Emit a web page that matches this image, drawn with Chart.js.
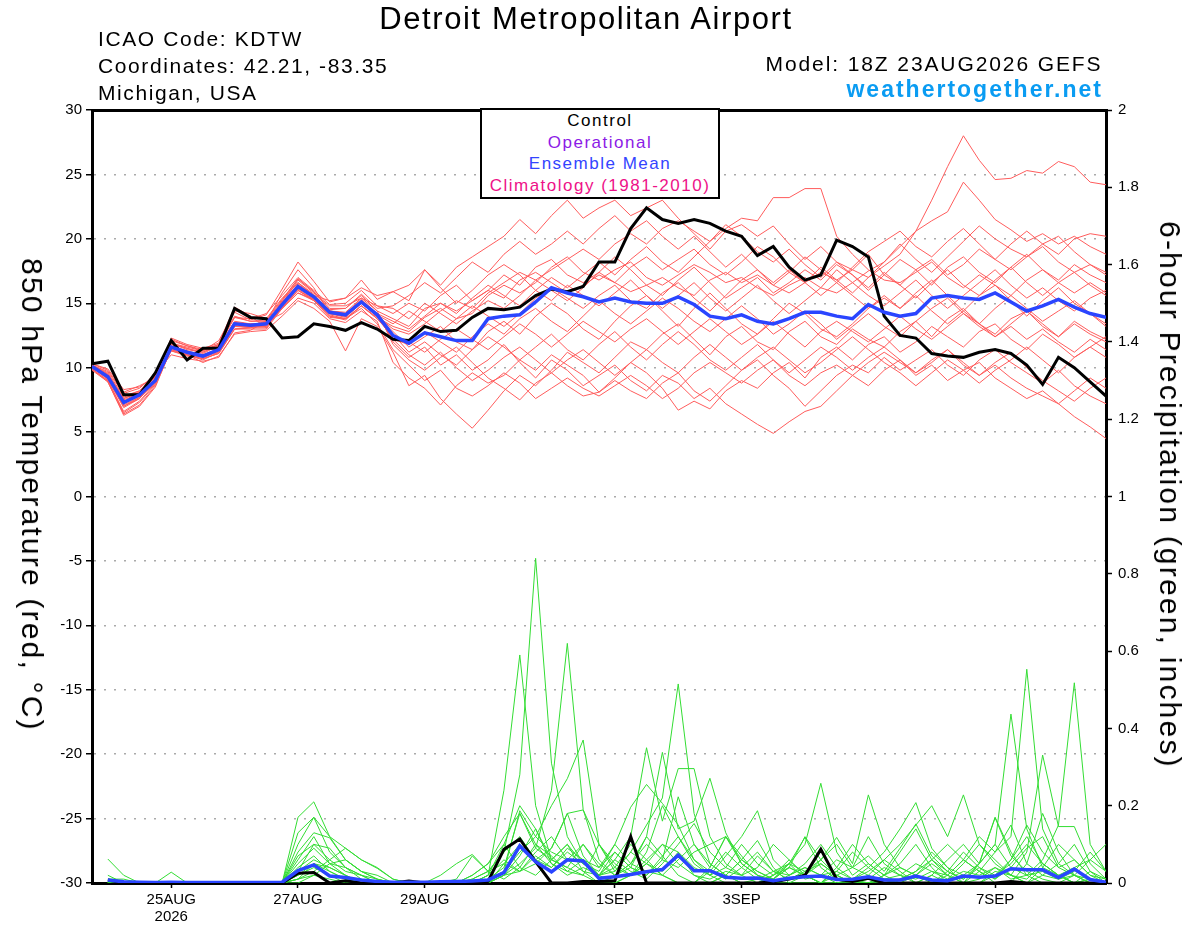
<!DOCTYPE html>
<html>
<head>
<meta charset="utf-8">
<title>Detroit Metropolitan Airport - GEFS plume</title>
<script src="https://cdn.jsdelivr.net/npm/chart.js@4/dist/chart.umd.min.js"></script>
<style>
  html, body { margin: 0; padding: 0; background: #fff; }
  #wrap { position: relative; width: 1200px; height: 927px; overflow: hidden;
          font-family: "Liberation Sans", Arial, Helvetica, sans-serif; color: #000; }
  #chart { position: absolute; left: 0; top: 0; }
  .txt { position: absolute; white-space: nowrap; }
  #title { left: 0; width: 1172px; top: 3px; text-align: center; font-size: 31px; line-height: 31px; letter-spacing: 1.6px; }
  #station { left: 98px; top: 25px; font-size: 21px; line-height: 27px; letter-spacing: 1.6px; }
  #model { right: 97.5px; top: 50px; font-size: 21px; line-height: 27px; letter-spacing: 1.9px; }
  #site { right: 97px; top: 75.5px; font-size: 23px; line-height: 27px; letter-spacing: 2px; font-weight: bold; color: #0a9cf2; }
  #legendBox { position: absolute; left: 480px; top: 108px; width: 236px; height: 87px; border: 2px solid #000;
               background: #fff; text-align: center; font-size: 17px; line-height: 21.7px; letter-spacing: 1.5px; }
  .vlabel { font-size: 30px; line-height: 34px; letter-spacing: 2.2px; transform: translate(-50%, -50%) rotate(90deg); }
  #leftTitle { left: 32px; top: 495px; }
  #rightTitle { left: 1170px; top: 495px; }
</style>
</head>
<body>
<div id="wrap">
  <canvas id="chart" width="1200" height="927"></canvas>
  <div class="txt" id="title">Detroit Metropolitan Airport</div>
  <div class="txt" id="station">ICAO Code: KDTW<br>Coordinates: 42.21, -83.35<br>Michigan, USA</div>
  <div class="txt" id="model">Model: 18Z 23AUG2026 GEFS</div>
  <div class="txt" id="site">weathertogether.net</div>
  <div id="legendBox">
    <div style="color:#000">Control</div>
    <div style="color:#8c1ae6">Operational</div>
    <div style="color:#3344ff">Ensemble Mean</div>
    <div style="color:#ee1188">Climatology (1981-2010)</div>
  </div>
  <div class="txt vlabel" id="leftTitle">850 hPa Temperature (red, °C)</div>
  <div class="txt vlabel" id="rightTitle">6-hour Precipitation (green, inches)</div>
</div>
<script>
// forecast lead times (hours after 18Z 23AUG2026)
const leadHours = [0, 6, 12, 18, 24, 30, 36, 42, 48, 54, 60, 66, 72, 78, 84, 90, 96,
  102, 108, 114, 120, 126, 132, 138, 144, 150, 156, 162, 168, 174, 180, 186, 192,
  198, 204, 210, 216, 222, 228, 234, 240, 246, 252, 258, 264, 270, 276, 282, 288,
  294, 300, 306, 312, 318, 324, 330, 336, 342, 348, 354, 360, 366, 372, 378, 384];

const tickHours = [30, 78, 126, 198, 246, 294, 342];
const tickLabels = [['25AUG', '2026'], '27AUG', '29AUG', '1SEP', '3SEP', '5SEP', '7SEP'];

// 850 hPa temperature (C), one value per lead time
const controlTemp = [10.3, 10.5, 7.9, 7.9, 9.6, 12.1, 10.6, 11.5, 11.5, 14.6, 13.9, 13.8, 12.3,
  12.4, 13.4, 13.2, 12.9, 13.5, 13.0, 12.2, 12.1, 13.2, 12.8, 12.9, 13.9, 14.6, 14.5, 14.7,
  15.6, 16.1, 15.9, 16.3, 18.2, 18.2, 20.8, 22.4, 21.5, 21.2, 21.5, 21.2, 20.6, 20.2, 18.7,
  19.4, 17.8, 16.8, 17.2, 19.9, 19.4, 18.6, 14.0, 12.5, 12.3, 11.1, 10.9, 10.8, 11.2, 11.4,
  11.1, 10.2, 8.7, 10.8, 10.0, 8.9, 7.8];

const meanTemp = [10.1, 9.3, 7.3, 7.9, 9.0, 11.6, 11.2, 10.9, 11.4, 13.4,
  13.3, 13.4, 14.9, 16.3, 15.5, 14.3, 14.1, 15.1, 14.1, 12.5,
  11.9, 12.7, 12.4, 12.1, 12.1, 13.8, 14.0, 14.1, 15.1, 16.2,
  15.8, 15.5, 15.1, 15.4, 15.1, 15.0, 15.0, 15.5, 14.9, 14.0,
  13.8, 14.1, 13.6, 13.4, 13.8, 14.3, 14.3, 14.0, 13.8, 14.9,
  14.3, 14.0, 14.2, 15.4, 15.6, 15.4, 15.3, 15.8, 15.1, 14.4,
  14.8, 15.3, 14.7, 14.2, 13.9];

const tempMembers = [
  [10.0, 9.2, 7.0, 7.6, 9.1, 11.9, 11.4, 11.2, 11.8, 13.9, 13.6, 13.7, 15.3, 16.9, 15.9, 14.5, 14.6, 15.6, 14.4,
   13.8, 13.2, 14.6, 15.0, 14.4, 15.2, 16.0, 15.4, 16.8, 17.4, 16.6, 15.8, 16.4, 17.2, 16.6, 15.9,
   16.4, 17.0, 16.2, 15.6, 16.8, 17.4, 16.6, 17.2, 16.4, 15.8, 16.6, 17.4, 16.8, 17.6, 17.0, 17.9,
   18.8, 20.6, 23.0, 25.6, 28.0, 26.1, 24.6, 24.7, 25.3, 25.1, 26.0, 25.6, 24.4, 24.2],
  [10.2, 9.5, 7.6, 8.1, 9.3, 11.3, 10.9, 10.7, 11.1, 13.0, 13.1, 13.6, 14.6, 15.8, 15.3, 14.1, 13.8, 14.8, 13.9,
   13.2, 12.8, 13.9, 14.6, 13.8, 14.2, 15.6, 16.4, 15.8, 16.6, 17.8, 18.6, 17.4, 16.8, 17.6, 18.2,
   17.0, 16.4, 17.2, 18.0, 17.4, 16.6, 17.0, 16.2, 15.6, 16.4, 17.0, 16.2, 15.8, 16.6,
   17.5, 18.2, 19.4, 20.6, 21.4, 22.1, 24.4, 23.0, 21.5, 20.7, 19.8, 20.4, 19.6, 20.2, 19.4, 18.8],
  [9.9, 9.0, 6.5, 7.3, 8.7, 12.1, 11.7, 11.3, 12.1, 14.3, 13.7, 14.1, 16.1, 18.2, 16.7, 15.1, 15.4, 16.8, 15.3,
   15.9, 15.2, 17.6, 16.4, 17.8, 18.6, 19.4, 20.2, 21.5, 20.4, 21.8, 23.0, 21.6, 22.4, 23.0, 21.8,
   22.4, 23.0, 21.6, 20.4, 19.2, 20.6, 21.1, 20.2, 21.0, 19.6, 18.4, 19.4, 18.2, 17.6, 18.8, 17.2,
   16.4, 17.6, 18.4, 17.2, 18.0, 19.2, 18.4, 17.6, 18.6, 19.4, 18.2, 17.4, 18.0, 17.2],
  [10.1, 9.4, 7.5, 8.0, 9.7, 11.4, 11.0, 10.4, 10.9, 12.6, 12.8, 12.9, 14.0, 15.2, 14.6, 13.6, 11.3, 13.8, 13.2,
   11.2, 8.6, 9.4, 7.6, 6.4, 5.3, 6.7, 8.2, 9.4, 8.6, 9.8, 11.2, 10.4, 9.6, 10.8, 12.0,
   11.4, 12.6, 13.4, 12.2, 11.0, 12.4, 13.2, 12.0, 11.4, 12.8, 13.6, 12.4, 11.8, 13.0, 12.2, 11.6,
   12.8, 13.6, 12.4, 13.8, 14.6, 13.4, 12.6, 13.8, 14.4, 13.2, 12.4, 13.6, 12.8, 12.2],
  [10.0, 9.1, 6.9, 7.6, 8.9, 11.7, 11.3, 11.0, 11.5, 13.5, 13.4, 13.2, 15.2, 16.6, 15.7, 14.4, 14.2, 15.3, 14.2,
   12.0, 10.8, 11.6, 10.2, 11.0, 9.8, 10.6, 11.8, 10.4, 9.2, 10.6, 9.8, 8.6, 9.4, 10.2, 9.0,
   8.2, 9.4, 8.8, 7.6, 8.4, 7.2, 6.4, 5.6, 4.9, 5.8, 6.6, 7.0, 8.2, 9.4, 8.6, 9.8,
   10.6, 9.4, 10.2, 9.0, 9.8, 10.4, 9.2, 8.4, 7.6, 8.2, 7.2, 6.2, 5.4, 4.5],
  [10.2, 9.7, 8.0, 8.4, 9.5, 11.0, 10.7, 10.5, 10.8, 12.7, 12.9, 13.6, 14.2, 15.4, 15.0, 13.8, 13.5, 14.4, 13.6,
   10.4, 9.2, 8.4, 7.1, 8.6, 9.6, 8.8, 9.4, 10.6, 9.8, 11.0, 10.2, 9.4, 8.1, 9.2, 10.4,
   9.6, 8.4, 6.7, 7.4, 6.8, 8.2, 9.0, 8.4, 9.6, 10.4, 9.2, 10.8, 11.6, 10.6, 11.8, 12.4,
   11.2, 12.0, 13.2, 12.4, 11.6, 12.8, 13.4, 12.2, 11.4, 12.6, 11.8, 10.8, 11.6, 12.4],
  [10.3, 9.8, 8.1, 8.6, 9.2, 12.3, 11.8, 11.5, 11.9, 14.7, 14.0, 13.1, 15.0, 16.8, 15.8, 14.8, 14.8, 15.4, 14.8,
   14.2, 15.0, 14.4, 15.6, 16.4, 15.2, 16.0, 17.2, 16.4, 17.8, 18.4, 17.2, 16.6, 17.4, 18.6, 17.6,
   16.4, 15.6, 16.8, 17.8, 16.6, 15.4, 16.2, 17.0, 15.8, 16.6, 17.6, 16.8, 18.0, 17.2, 16.0, 17.2,
   18.4, 17.6, 16.4, 17.8, 18.6, 17.4, 16.6, 17.8, 18.8, 17.6, 16.8, 18.0, 17.2, 16.6],
  [9.8, 8.9, 6.3, 7.0, 8.5, 11.5, 11.1, 10.8, 11.2, 13.2, 13.2, 13.5, 15.8, 17.6, 16.2, 14.2, 14.0, 15.0, 14.0,
   12.8, 11.6, 12.4, 13.2, 12.0, 11.4, 12.8, 13.6, 12.6, 14.0, 15.0, 14.2, 13.0, 12.2, 13.6, 14.8,
   15.6, 14.4, 13.2, 14.6, 15.8, 14.6, 13.4, 12.6, 13.8, 15.0, 14.2, 13.0, 12.4, 13.4, 14.6, 15.4,
   14.6, 15.8, 16.8, 15.6, 14.4, 15.6, 16.4, 15.2, 14.0, 15.2, 16.2, 15.0, 14.2, 13.4],
  [10.1, 9.3, 7.2, 7.8, 9.0, 11.6, 11.2, 11.0, 11.4, 13.3, 13.4, 13.4, 14.8, 16.2, 15.4, 14.4, 14.2, 15.0, 14.0,
   13.0, 12.6, 13.4, 14.4, 15.2, 14.6, 15.8, 16.6, 17.4, 16.8, 17.6, 18.4, 19.2, 18.4, 19.6, 20.4,
   19.6, 20.8, 21.4, 20.6, 19.8, 20.8, 21.6, 21.4, 23.2, 23.2, 23.9, 23.9, 20.2, 18.8, 17.6, 16.8,
   16.6, 17.4, 18.2, 17.0, 16.2, 17.2, 16.4, 15.6, 16.8, 17.6, 16.6, 15.8, 16.6, 15.8],
  [10.0, 9.2, 7.1, 7.7, 8.8, 11.3, 11.0, 10.6, 11.2, 13.0, 13.0, 13.0, 14.6, 15.8, 15.2, 13.9, 13.8, 14.6, 13.4,
   11.4, 10.2, 9.0, 9.8, 8.4, 7.8, 8.6, 9.6, 8.8, 7.6, 8.4, 9.2, 8.4, 7.8, 8.6, 9.4,
   8.6, 7.6, 8.4, 9.6, 10.4, 9.6, 8.8, 9.8, 10.6, 9.4, 8.6, 9.6, 10.2, 9.4, 10.4, 11.2,
   10.4, 9.6, 10.6, 11.4, 10.2, 9.4, 10.4, 11.2, 10.0, 9.0, 8.2, 7.4, 8.4, 9.2],
  [10.2, 9.5, 7.7, 8.2, 9.4, 11.8, 11.5, 11.2, 11.7, 13.9, 13.8, 14.2, 15.6, 17.0, 16.0, 14.9, 15.0, 16.0, 14.8,
   14.6, 13.8, 15.0, 14.2, 13.4, 14.4, 15.2, 14.6, 15.6, 16.8, 16.0, 15.2, 16.2, 17.4, 16.6, 17.8,
   18.6, 17.6, 18.4, 19.2, 18.0, 17.2, 18.2, 19.4, 18.6, 17.4, 16.6, 17.8, 16.8, 15.8, 17.0, 18.2,
   19.6, 18.4, 17.4, 18.6, 19.8, 21.0, 20.0, 19.2, 18.6, 19.6, 20.2, 19.0, 18.0, 17.4],
  [10.1, 9.2, 7.3, 8.0, 9.2, 11.6, 11.3, 10.8, 11.3, 13.4, 13.3, 13.6, 14.6, 16.0, 15.3, 14.2, 13.9, 15.0, 14.0,
   12.2, 11.8, 12.8, 12.0, 11.2, 12.4, 13.4, 12.6, 13.8, 14.6, 13.6, 12.8, 14.0, 15.2, 14.2, 13.4,
   14.4, 15.4, 14.6, 13.6, 12.8, 13.8, 14.8, 13.8, 12.6, 13.4, 14.4, 13.4, 12.2, 13.2, 14.2, 13.2,
   12.4, 13.6, 14.6, 15.4, 14.2, 13.4, 14.6, 15.6, 14.6, 13.6, 14.4, 15.2, 14.2, 13.2],
  [9.9, 9.0, 6.6, 7.4, 8.8, 11.9, 11.5, 11.1, 11.7, 13.6, 13.4, 13.4, 15.1, 16.4, 15.6, 14.4, 14.3, 15.4, 14.4,
   11.8, 10.6, 9.8, 10.8, 11.6, 10.4, 9.2, 8.4, 7.5, 8.8, 9.6, 8.6, 7.8, 8.1, 9.0, 8.2,
   7.6, 8.8, 9.6, 8.2, 7.4, 8.6, 9.8, 10.6, 9.4, 8.4, 7.0, 8.2, 9.4, 10.2, 9.6, 10.8,
   9.8, 10.6, 11.4, 10.2, 9.4, 10.6, 11.4, 10.4, 9.6, 8.8, 9.8, 8.6, 7.8, 7.2],
  [10.0, 9.4, 7.4, 7.9, 9.1, 11.5, 11.2, 10.9, 11.3, 13.2, 13.1, 13.3, 14.9, 16.5, 15.6, 14.3, 14.0, 15.1, 14.1,
   13.4, 14.4, 13.6, 12.8, 13.8, 14.8, 14.0, 13.2, 14.2, 15.4, 16.2, 15.4, 14.6, 15.6, 16.4, 15.2,
   14.6, 15.8, 16.6, 15.4, 14.4, 15.6, 16.8, 17.6, 16.4, 17.4, 18.6, 17.6, 16.6, 17.8, 19.0, 19.8,
   20.6, 19.4, 18.6, 19.8, 20.8, 19.6, 18.4, 19.6, 20.6, 19.6, 18.8, 20.0, 20.4, 20.2],
  [10.3, 9.9, 8.3, 8.5, 9.3, 12.2, 11.7, 11.4, 11.8, 14.4, 14.2, 13.8, 15.4, 16.6, 15.6, 15.2, 15.4, 16.2, 15.6,
   15.9, 16.4, 17.6, 16.2, 15.0, 16.0, 17.2, 18.0, 17.2, 16.0, 15.2, 16.4, 15.6, 14.8, 15.8, 16.8,
   15.6, 14.6, 15.6, 16.6, 15.4, 14.4, 15.4, 16.4, 15.2, 14.2, 15.2, 16.2, 17.6, 16.6, 15.6, 14.8,
   15.8, 16.8, 15.6, 14.6, 15.6, 16.6, 17.6, 16.4, 15.4, 16.2, 15.2, 14.4, 15.4, 16.0],
  [9.9, 8.9, 6.4, 7.1, 8.6, 11.4, 11.0, 10.7, 11.1, 13.0, 13.1, 13.1, 14.7, 16.1, 15.3, 14.0, 13.7, 14.8, 13.8,
   12.6, 11.2, 12.0, 11.0, 10.2, 11.4, 12.4, 11.6, 10.6, 11.6, 12.6, 11.4, 10.6, 11.8, 12.8, 11.6,
   10.6, 11.8, 12.8, 11.8, 10.6, 9.8, 10.8, 11.8, 10.6, 9.6, 10.6, 11.6, 10.8, 9.8, 10.8, 11.6,
   10.6, 9.6, 10.4, 11.4, 10.4, 9.4, 10.2, 9.2, 8.4, 7.8, 7.2, 8.2, 9.2, 8.4],
  [10.1, 9.4, 7.6, 8.1, 9.0, 11.7, 11.2, 10.9, 11.4, 13.5, 13.2, 13.3, 14.8, 16.2, 15.4, 14.3, 14.1, 15.2, 14.2,
   13.6, 13.0, 14.0, 15.0, 14.2, 15.4, 16.4, 15.6, 14.8, 16.0, 17.0, 16.2, 17.2, 18.2, 17.2, 18.4,
   19.4, 18.2, 17.4, 18.6, 19.8, 21.1, 20.2, 19.0, 18.2, 19.2, 18.0, 17.0, 18.2, 17.2, 16.2, 17.4,
   16.4, 15.4, 16.6, 17.6, 16.4, 15.6, 16.8, 17.8, 16.6, 15.6, 16.6, 17.4, 16.4, 15.6],
  [10.0, 9.3, 7.2, 7.9, 9.0, 11.4, 11.0, 10.8, 11.3, 13.4, 13.2, 13.2, 14.6, 16.0, 15.2, 14.0, 13.8, 14.8, 13.8,
   12.4, 12.0, 11.2, 12.2, 13.0, 12.2, 11.4, 12.4, 13.4, 12.6, 11.6, 12.6, 13.6, 12.8, 12.0, 13.0,
   13.8, 12.8, 11.8, 12.8, 13.8, 12.8, 11.8, 12.6, 13.6, 12.6, 11.6, 12.8, 13.6, 12.8, 12.0, 13.0,
   14.0, 13.0, 12.2, 13.2, 14.2, 13.2, 12.4, 13.4, 14.4, 13.4, 12.4, 13.4, 12.6, 12.0],
  [10.2, 9.6, 7.8, 8.2, 9.3, 11.9, 11.6, 11.3, 11.8, 14.0, 13.6, 13.6, 15.2, 16.9, 15.9, 14.6, 14.6, 15.7, 14.6,
   14.8, 15.6, 16.6, 15.8, 17.0, 18.2, 17.4, 18.8, 19.8, 18.8, 19.6, 20.6, 19.6, 20.8, 21.8, 20.6,
   21.4, 20.2, 19.2, 20.2, 19.0, 17.8, 18.8, 17.6, 16.6, 17.6, 16.6, 15.6, 16.6, 15.6, 14.6, 15.6,
   14.6, 15.6, 14.4, 13.4, 14.4, 13.4, 12.4, 13.2, 12.2, 13.0, 12.0, 11.2, 12.2, 11.4],
  [10.1, 9.1, 7.0, 7.7, 9.0, 11.6, 11.1, 10.9, 11.4, 13.3, 13.3, 13.4, 15.0, 16.4, 15.5, 14.2, 14.0, 15.0, 14.0,
   12.2, 11.0, 10.2, 11.2, 10.0, 9.0, 9.8, 10.8, 11.6, 10.6, 9.6, 10.6, 11.4, 10.4, 9.4, 10.4,
   11.4, 10.4, 9.6, 10.8, 11.8, 10.8, 9.8, 10.8, 11.6, 10.6, 9.6, 10.4, 11.4, 12.4, 11.4, 10.4,
   9.6, 8.6, 9.6, 10.6, 9.8, 8.8, 9.8, 10.6, 11.6, 10.6, 9.6, 10.8, 11.6, 10.8]
];

// 6-hour precipitation (inches), lead times 6h .. 384h
const controlPrecip = [0.008, 0, 0, 0, 0, 0, 0, 0, 0, 0, 0, 0, 0.025, 0.027, 0, 0.006,
  0, 0, 0, 0.005, 0, 0, 0, 0, 0.004, 0.087, 0.114, 0.055, 0, 0, 0.004, 0.004,
  0.006, 0.12, 0, 0, 0, 0, 0, 0, 0, 0, 0.003, 0.01, 0.02, 0.087, 0.01, 0.004,
  0.012, 0, 0, 0, 0, 0, 0, 0, 0, 0.004, 0, 0, 0, 0, 0, 0];

const meanPrecip = [0.008, 0.003, 0.002, 0.001, 0.002, 0.001, 0.001, 0.001, 0.001, 0.001, 0.001, 0.002, 0.032, 0.047, 0.018, 0.014,
  0.008, 0.004, 0.002, 0.002, 0.002, 0.003, 0.004, 0.005, 0.008, 0.027, 0.096, 0.055, 0.029, 0.06, 0.057, 0.012,
  0.016, 0.022, 0.029, 0.035, 0.072, 0.032, 0.032, 0.015, 0.012, 0.013, 0.006, 0.012, 0.016, 0.018, 0.009, 0.01,
  0.016, 0.008, 0.008, 0.018, 0.008, 0.006, 0.018, 0.015, 0.018, 0.037, 0.034, 0.034, 0.014, 0.036, 0.009, 0.002];

const precipMembers = [
  [0, 0, 0, 0, 0, 0, 0, 0, 0, 0, 0, 0, 0.02, 0.05, 0.03, 0.01,
   0, 0, 0, 0, 0, 0, 0, 0.01, 0.03, 0.08, 0.28, 0.84, 0.31, 0.12, 0.05, 0.02,
   0.04, 0.1, 0.06, 0.02, 0, 0, 0.03, 0.08, 0.04, 0.01, 0, 0, 0.02, 0.05, 0.02, 0,
   0, 0, 0.01, 0.03, 0.08, 0.04, 0, 0, 0.02, 0.06, 0.12, 0.05, 0.02, 0, 0.01, 0],
  [0, 0, 0, 0, 0, 0, 0, 0, 0, 0, 0, 0, 0.1, 0.17, 0.12, 0.06,
   0.03, 0.01, 0, 0, 0, 0, 0, 0, 0.02, 0.24, 0.59, 0.2, 0.06, 0.1, 0.03, 0,
   0, 0.02, 0.08, 0.2, 0.12, 0.05, 0.02, 0, 0, 0, 0.01, 0.04, 0.02, 0, 0, 0,
   0, 0, 0, 0, 0, 0.02, 0.06, 0.03, 0, 0, 0.05, 0.18, 0.08, 0.02, 0, 0],
  [0, 0, 0, 0, 0, 0, 0, 0, 0, 0, 0, 0, 0.06, 0.12, 0.05, 0.02,
   0, 0, 0, 0, 0, 0, 0, 0.02, 0.05, 0.12, 0.18, 0.09, 0.24, 0.62, 0.19, 0.06,
   0.02, 0.05, 0.12, 0.07, 0.02, 0, 0, 0.02, 0.06, 0.11, 0.04, 0, 0, 0, 0.03, 0.08,
   0.04, 0.01, 0, 0, 0.02, 0, 0, 0.05, 0.17, 0.08, 0.02, 0, 0, 0, 0.03, 0.01],
  [0.02, 0, 0, 0, 0, 0, 0, 0, 0, 0, 0, 0, 0.17, 0.21, 0.12, 0.09,
   0.06, 0.04, 0.01, 0, 0, 0, 0, 0, 0, 0.03, 0.08, 0.12, 0.2, 0.27, 0.37, 0.1,
   0.03, 0.08, 0.15, 0.22, 0.515, 0.18, 0.05, 0.02, 0, 0, 0.02, 0.06, 0.02, 0, 0, 0,
   0, 0.02, 0.05, 0.1, 0.04, 0, 0, 0, 0.03, 0.02, 0, 0.04, 0.1, 0.06, 0.02, 0],
  [0, 0, 0, 0, 0, 0, 0, 0, 0, 0, 0, 0, 0.13, 0.17, 0.08, 0.04,
   0.02, 0, 0, 0, 0, 0, 0.01, 0.07, 0.03, 0.05, 0.1, 0.06, 0.04, 0.08, 0.05, 0.02,
   0.06, 0.12, 0.35, 0.16, 0.296, 0.296, 0.12, 0.05, 0.02, 0.04, 0.1, 0.06, 0.02, 0, 0.04, 0.1,
   0.05, 0.02, 0.08, 0.14, 0.06, 0.02, 0, 0.01, 0.04, 0.02, 0.01, 0.05, 0.02, 0, 0, 0],
  [0, 0, 0, 0, 0, 0, 0, 0, 0, 0, 0, 0, 0.05, 0.09, 0.05, 0.06,
   0.03, 0.01, 0, 0, 0, 0, 0, 0, 0, 0.05, 0.03, 0.08, 0.12, 0.06, 0.1, 0.04,
   0.08, 0.04, 0.12, 0.338, 0.14, 0.16, 0.271, 0.13, 0.05, 0.02, 0, 0.01, 0.03, 0.05, 0.02, 0,
   0.02, 0.06, 0.03, 0, 0, 0.03, 0.08, 0.04, 0.01, 0.06, 0.15, 0.08, 0.04, 0.02, 0, 0],
  [0, 0, 0, 0, 0, 0, 0, 0, 0, 0, 0, 0, 0.03, 0.1, 0.09, 0.04,
   0.01, 0, 0, 0, 0, 0, 0, 0, 0.01, 0.04, 0.18, 0.1, 0.05, 0.03, 0.06, 0.04,
   0.1, 0.196, 0.255, 0.206, 0.15, 0.06, 0.02, 0.04, 0.1, 0.05, 0.02, 0.04, 0.12, 0.06, 0.02, 0,
   0.01, 0.04, 0.02, 0, 0.02, 0.06, 0.1, 0.05, 0.169, 0.07, 0.03, 0.01, 0, 0.02, 0.06, 0.03],
  [0, 0, 0, 0, 0, 0, 0, 0, 0, 0, 0, 0, 0.02, 0.04, 0.02, 0,
   0, 0, 0, 0, 0, 0, 0, 0.01, 0.03, 0.08, 0.12, 0.06, 0.09, 0.18, 0.07, 0.02,
   0, 0.02, 0.05, 0.02, 0, 0, 0.04, 0.12, 0.07, 0.02, 0.01, 0.05, 0.1, 0.258, 0.08, 0.02,
   0.05, 0.02, 0, 0.02, 0.06, 0.03, 0.01, 0.05, 0.1, 0.437, 0.14, 0.04, 0.02, 0, 0.01, 0],
  [0, 0, 0, 0, 0, 0, 0, 0, 0, 0, 0, 0, 0, 0.02, 0.01, 0,
   0, 0, 0, 0, 0, 0, 0, 0, 0, 0.02, 0.07, 0.14, 0.05, 0.02, 0.04, 0.02,
   0.06, 0.03, 0.01, 0.05, 0.1, 0.154, 0.08, 0.04, 0.02, 0, 0.02, 0.05, 0.03, 0.06, 0.118, 0.05,
   0.228, 0.1, 0.04, 0.02, 0.05, 0.02, 0, 0.03, 0.08, 0.12, 0.553, 0.14, 0.05, 0.02, 0, 0],
  [0, 0, 0, 0, 0, 0, 0, 0, 0, 0, 0, 0, 0.01, 0.05, 0.04, 0.02,
   0, 0, 0, 0, 0, 0, 0, 0.02, 0.05, 0.1, 0.04, 0.02, 0.06, 0.04, 0.02, 0,
   0.02, 0.05, 0.1, 0.06, 0.223, 0.1, 0.04, 0.12, 0.05, 0.02, 0, 0.02, 0.04, 0.02, 0, 0.01,
   0.04, 0.08, 0.14, 0.208, 0.09, 0.04, 0.02, 0.05, 0.1, 0.04, 0.02, 0.06, 0.15, 0.518, 0.1, 0.03],
  [0, 0, 0, 0, 0.028, 0, 0, 0, 0, 0, 0, 0, 0.04, 0.07, 0.03, 0.01,
   0, 0, 0, 0, 0, 0, 0, 0, 0.02, 0.06, 0.03, 0.05, 0.09, 0.18, 0.189, 0.1,
   0.04, 0.02, 0.05, 0.03, 0.08, 0.04, 0.02, 0.07, 0.12, 0.187, 0.06, 0.02, 0.05, 0.1, 0.04, 0.01,
   0.03, 0.06, 0.1, 0.15, 0.2, 0.12, 0.228, 0.1, 0.05, 0.02, 0.08, 0.331, 0.146, 0.146, 0.05, 0.01],
  [0, 0, 0, 0, 0, 0, 0, 0, 0, 0, 0, 0, 0.07, 0.1, 0.06, 0.03,
   0.02, 0.01, 0, 0, 0, 0, 0, 0, 0, 0.02, 0.05, 0.09, 0.06, 0.04, 0.1, 0.05,
   0.02, 0.04, 0.02, 0.06, 0.04, 0.08, 0.1, 0.12, 0.06, 0.03, 0.01, 0.04, 0.02, 0, 0.02, 0.04,
   0.07, 0.03, 0.09, 0.153, 0.07, 0.03, 0.01, 0.04, 0.02, 0.05, 0.1, 0.05, 0.02, 0.04, 0.06, 0.1],
  [0.062, 0.02, 0, 0, 0, 0, 0, 0, 0, 0, 0, 0, 0.01, 0.03, 0.06, 0.09,
   0.06, 0.038, 0.01, 0, 0, 0.02, 0.05, 0.074, 0.03, 0.01, 0.04, 0.1, 0.07, 0.03, 0.02, 0.1,
   0.05, 0.02, 0.06, 0.1, 0.05, 0.02, 0, 0.02, 0.06, 0.03, 0.01, 0.05, 0.118, 0.04, 0.01, 0,
   0, 0.02, 0.04, 0.02, 0, 0.01, 0.05, 0.1, 0.06, 0.02, 0, 0.02, 0.05, 0.1, 0.03, 0],
  [0, 0, 0, 0, 0, 0, 0, 0, 0, 0, 0, 0, 0.08, 0.13, 0.117, 0.06,
   0.03, 0.02, 0, 0, 0, 0, 0, 0, 0.01, 0.03, 0.187, 0.12, 0.08, 0.06, 0.03, 0.02,
   0.08, 0.04, 0.02, 0.07, 0.12, 0.06, 0.03, 0.01, 0.04, 0.08, 0.03, 0.01, 0.02, 0.06, 0.1, 0.04,
   0.02, 0, 0.01, 0.03, 0.06, 0.1, 0.06, 0.12, 0.08, 0.15, 0.05, 0.02, 0.01, 0.03, 0.08, 0.03],
  [0, 0, 0, 0, 0, 0, 0, 0, 0, 0, 0, 0, 0.03, 0.06, 0.04, 0.02,
   0, 0, 0, 0, 0, 0, 0, 0, 0.02, 0.1, 0.2, 0.14, 0.06, 0.1, 0.05, 0.03,
   0.1, 0.05, 0.03, 0.02, 0.06, 0.1, 0.05, 0.02, 0, 0.01, 0.03, 0.02, 0.04, 0.02, 0.06, 0.04,
   0.12, 0.05, 0.02, 0.01, 0.03, 0.01, 0.03, 0.02, 0.04, 0.01, 0.02, 0.03, 0.01, 0.02, 0.01, 0],
  [0.01, 0.01, 0, 0, 0, 0, 0, 0, 0, 0, 0, 0, 0.01, 0.02, 0.05, 0.04,
   0.02, 0, 0, 0, 0, 0, 0, 0, 0, 0.02, 0.03, 0.07, 0.04, 0.09, 0.06, 0.02,
   0.03, 0.08, 0.05, 0.1, 0.08, 0.02, 0.01, 0.03, 0.02, 0.07, 0.03, 0.05, 0.01, 0.02, 0.03, 0.01,
   0, 0.01, 0.02, 0.05, 0.03, 0.02, 0.06, 0.03, 0.01, 0.04, 0.09, 0.12, 0.04, 0.06, 0.02, 0.01]
];

const RED = '#ff5c5c';
const GREEN = '#33dd33';
const BLUE = '#2a45ff';
const FONT = '"Liberation Sans", Arial, Helvetica, sans-serif';

Chart.defaults.font.family = FONT;
Chart.defaults.color = '#000';

const tempPoints = vals => vals.map((v, i) => ({ x: leadHours[i], y: v }));
const precipPoints = vals => vals.map((v, i) => ({ x: leadHours[i + 1], y: v }));

function line(data, axis, color, width, order) {
    return {
        data: data,
        yAxisID: axis,
        borderColor: color,
        borderWidth: width,
        pointRadius: 0,
        fill: false,
        tension: 0,
        order: order
    };
}

const datasets = [
    line(tempPoints(meanTemp), 'y', BLUE, 3.5, 0),
    line(precipPoints(meanPrecip), 'y1', BLUE, 3.5, 0),
    line(tempPoints(controlTemp), 'y', '#000', 3, 1),
    line(precipPoints(controlPrecip), 'y1', '#000', 3, 1)
];
tempMembers.forEach(m => datasets.push(line(tempPoints(m), 'y', RED, 1, 3)));
precipMembers.forEach(m => datasets.push(line(precipPoints(m), 'y1', GREEN, 1, 2)));

const tickFont = { size: 15, lineHeight: 1.15 };

new Chart(document.getElementById('chart').getContext('2d'), {
    type: 'line',
    data: { datasets: datasets },
    options: {
        responsive: false,
        animation: false,
        devicePixelRatio: 1,
        events: [],
        layout: { padding: { top: 110, left: 0, right: 0, bottom: 0 } },
        plugins: {
            legend: { display: false },
            tooltip: { enabled: false }
        },
        scales: {
            x: {
                type: 'linear',
                position: 'bottom',
                min: 0,
                max: 384,
                afterBuildTicks: axis => { axis.ticks = tickHours.map(v => ({ value: v })); },
                afterFit: axis => { axis.height = 44; },
                ticks: {
                    autoSkip: false,
                    maxRotation: 0,
                    padding: 3,
                    font: tickFont,
                    callback: (value, index) => tickLabels[index]
                },
                grid: { drawOnChartArea: false, tickLength: 5, tickColor: '#000', tickWidth: 1.5 },
                border: { color: '#000', width: 3 }
            },
            xTop: {
                type: 'linear',
                position: 'top',
                min: 0,
                max: 384,
                afterFit: axis => { axis.height = 0; },
                ticks: { display: false },
                grid: { display: false },
                border: { color: '#000', width: 3 }
            },
            y: {
                position: 'left',
                min: -30,
                max: 30,
                afterFit: axis => { axis.width = 92; },
                ticks: { stepSize: 5, padding: 4, font: tickFont, callback: v => String(v) },
                grid: { color: '#aaaaaa', lineWidth: 1.5, tickColor: '#000', tickWidth: 1.5, tickLength: 6, tickBorderDash: [] },
                border: { color: '#000', width: 3, dash: [2, 8] }
            },
            y1: {
                position: 'right',
                min: 0,
                max: 2,
                afterFit: axis => { axis.width = 94; },
                ticks: { stepSize: 0.2, padding: 6, font: tickFont, callback: v => String(+v.toFixed(1)) },
                grid: { drawOnChartArea: false, tickColor: '#000', tickWidth: 1.5, tickLength: 6 },
                border: { color: '#000', width: 3 }
            }
        }
    }
});
</script>
</body>
</html>
